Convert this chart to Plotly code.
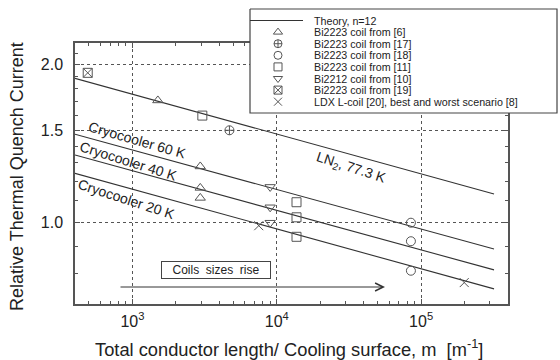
import math
import plotly.graph_objects as go

W, H = 560, 360

# Theory, n=12 (straight lines in log-log; values at both ends)
theory_m = [400, 3.2e5]
theory_ln2 = [1.884, 1.134]
theory_60k = [1.474, 0.891]
theory_40k = [1.346, 0.813]
theory_20k = [1.242, 0.748]

# Coil data
ref6_m = [1500, 2950, 2950, 2950]
ref6_i = [1.71, 1.28, 1.165, 1.115]
ref17_m = [4700]
ref17_i = [1.50]
ref18_m = [85000, 85000, 85000]
ref18_i = [1.00, 0.922, 0.810]
ref11_m = [3050, 13700, 13700, 13700]
ref11_i = [1.60, 1.094, 1.024, 0.940]
ref10_m = [9000, 9000, 9000]
ref10_i = [1.17, 1.07, 1.00]
ref19_m = [490]
ref19_i = [1.93]
ldx_m = [7500, 199000]
ldx_i = [0.987, 0.769]

series = [
    ("Bi2223 coil from [6]", "triangle-up-open", ref6_m, ref6_i),
    ("Bi2223 coil from [17]", "circle-cross-open", ref17_m, ref17_i),
    ("Bi2223 coil from [18]", "circle-open", ref18_m, ref18_i),
    ("Bi2223 coil from [11]", "square-open", ref11_m, ref11_i),
    ("Bi2212 coil from [10]", "triangle-down-open", ref10_m, ref10_i),
    ("Bi2223 coil from [19]", "square-x-open", ref19_m, ref19_i),
    ("LDX L-coil [20], best and worst scenario [8]", "x-thin-open", ldx_m, ldx_i),
]

x_major = [1e3, 1e4, 1e5]
x_labels = ["10<sup>3</sup>", "10<sup>4</sup>", "10<sup>5</sup>"]
x_minor = [m * 10 ** e for e in (2, 3, 4, 5) for m in range(2, 10)
           if 400 <= m * 10 ** e <= 4e5]
y_major = [1.0, 1.5, 2.0]
y_labels = ["1.0", "1.5", "2.0"]
y_minor = [0.7, 0.8, 0.9, 1.1, 1.2, 1.3, 1.4, 1.6, 1.7, 1.8, 1.9, 2.1, 2.2]

INK = "#333333"
TXT = "#222222"
MARK = "#555555"
FONT = "Liberation Sans, Arial, sans-serif"


def px(x):
    """Horizontal pixel -> paper fraction (margins are zero)."""
    return x / W


def py(y):
    """Vertical pixel from the top -> paper fraction."""
    return 1 - y / H


def label(text, x, y, size, xanchor="center", yanchor="middle", **kw):
    return dict(x=px(x), y=py(y), xref="paper", yref="paper", text=text,
                showarrow=False, xanchor=xanchor, yanchor=yanchor,
                font=dict(size=size, color=TXT, family=FONT), **kw)


fig = go.Figure()

for yv in (theory_ln2, theory_60k, theory_40k, theory_20k):
    fig.add_trace(go.Scatter(x=theory_m, y=yv, mode="lines",
                             line=dict(color=INK, width=1.1),
                             showlegend=False, hoverinfo="skip"))

for name, sym, xs, ys in series:
    fig.add_trace(go.Scatter(x=xs, y=ys, mode="markers", name=name,
                             marker=dict(symbol=sym, size=9, color=MARK,
                                         line=dict(width=1, color=MARK)),
                             showlegend=False))

# Pixel-space overlay for the legend box
leg_left, leg_right, leg_top, leg_bottom = 250, 557, 9, 113
fig.add_trace(go.Scatter(
    x=[leg_left, leg_right, leg_right, leg_left, leg_left],
    y=[leg_top, leg_top, leg_bottom, leg_bottom, leg_top],
    xaxis="x2", yaxis="y2", mode="lines", fill="toself",
    fillcolor="white", line=dict(color="#444444", width=1.2),
    showlegend=False, hoverinfo="skip"))

row_y = [20.5 + 11.6 * k for k in range(8)]
fig.add_trace(go.Scatter(x=[leg_left, 303], y=[row_y[0], row_y[0]],
                         xaxis="x2", yaxis="y2", mode="lines",
                         line=dict(color=INK, width=1.1),
                         showlegend=False, hoverinfo="skip"))
fig.add_trace(go.Scatter(
    x=[278] * len(series), y=row_y[1:], xaxis="x2", yaxis="y2",
    mode="markers",
    marker=dict(symbol=[s[1] for s in series], size=8, color=MARK,
                line=dict(width=1, color=MARK)),
    showlegend=False, hoverinfo="skip"))

annotations = []
leg_labels = ["Theory, n=12"] + [s[0] for s in series]
for lab, yy in zip(leg_labels, row_y):
    annotations.append(label(lab, 312, yy, 10.7, xanchor="left"))

for txt, cx, cy, ang in [
    ("Cryocooler 60 K", 137, 140, 16),
    ("Cryocooler 40 K", 128, 161, 17.5),
    ("Cryocooler 20 K", 126, 199, 18),
    ("LN<sub>2</sub>, 77.3 K", 351, 168, 18),
]:
    annotations.append(label(txt, cx, cy, 14, textangle=ang))

annotations.append(label("Coils\u00a0 sizes\u00a0 rise", 216, 270, 12,
                         width=105, height=13, borderpad=1.5, borderwidth=1,
                         bordercolor="#444444", bgcolor="white"))
annotations.append(dict(x=385, y=287, xref="x2", yref="y2",
                        ax=119, ay=287, axref="x2", ayref="y2", text="",
                        showarrow=True, arrowhead=5, arrowsize=1.6,
                        arrowwidth=1, arrowcolor=INK, standoff=0))

annotations.append(label(
    "Total conductor length/ Cooling surface, m  [m<sup>-1</sup>]",
    289, 348, 18.3))
annotations.append(label("Relative Thermal Quench Current", 17, 177, 18,
                         textangle=-90))

axis_common = dict(
    type="log", showline=True, linecolor="#555555", linewidth=1.5,
    mirror="ticks", ticks="inside", ticklen=5, tickcolor="#555555",
    showgrid=True, gridcolor="#555555", griddash="dot", gridwidth=1,
    zeroline=False, tickfont=dict(size=16, color=TXT, family=FONT),
    fixedrange=True,
)

fig.update_layout(
    width=W, height=H, margin=dict(l=0, r=0, t=0, b=0),
    paper_bgcolor="white", plot_bgcolor="rgba(0,0,0,0)",
    showlegend=False,
    font=dict(family=FONT, color=TXT),
    xaxis=dict(axis_common, domain=[75 / W, 508 / W],
               range=[math.log10(400), math.log10(4e5)],
               tickmode="array", tickvals=x_major, ticktext=x_labels,
               ticklabelstandoff=2,
               minor=dict(tickmode="array", tickvals=x_minor, ticks="inside",
                          ticklen=3, showgrid=False)),
    yaxis=dict(axis_common, domain=[1 - 304 / H, 1 - 43 / H],
               range=[math.log10(0.7), math.log10(2.2)],
               tickmode="array", tickvals=y_major, ticktext=y_labels,
               ticklabelstandoff=7,
               minor=dict(tickmode="array", tickvals=y_minor, ticks="inside",
                          ticklen=3, showgrid=False)),
    xaxis2=dict(domain=[0, 1], range=[0, W], anchor="y2", visible=False,
                fixedrange=True),
    yaxis2=dict(domain=[0, 1], range=[H, 0], anchor="x2", visible=False,
                fixedrange=True),
    annotations=annotations,
)

fig.write_html("out.html")
